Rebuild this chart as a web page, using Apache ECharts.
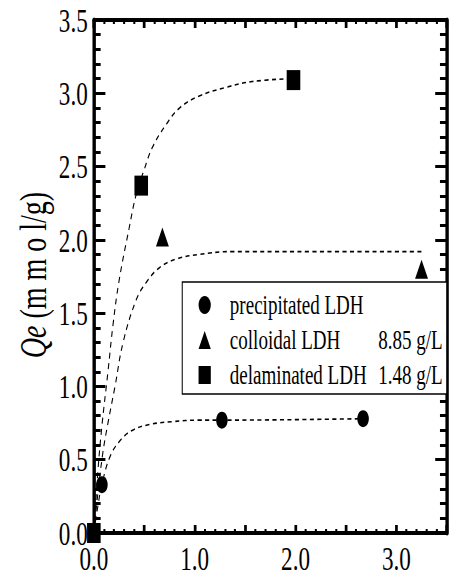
<!DOCTYPE html>
<html>
<head>
<meta charset="utf-8">
<script src="https://cdn.jsdelivr.net/npm/echarts@6/dist/echarts.min.js"></script>
<style>
    body { margin: 0; background: #fff; }
    #wrap { width: 451px; height: 575px; overflow: hidden; }
    /* the original figure is squeezed horizontally */
    #chart { width: 663px; height: 575px; transform: scaleX(0.68); transform-origin: 0 0; }
</style>
</head>
<body>
<div id="wrap"><div id="chart"></div></div>
<script>
    const seriesNames = ['precipitated LDH', 'colloidal LDH', 'delaminated LDH']
    const concLabels = ['', '8.85 g/L', '1.48 g/L']
    const symbols = ['circle', 'triangle', 'rect']
    const yName = '{i|Qe} (m m o l/g)'

    // measured points
    const precipX = [0.08, 1.27, 2.67]
    const precipY = [0.33, 0.77, 0.78]
    const colloidX = [0.68, 3.25]
    const colloidY = [2.02, 1.80]
    const delamX = [0, 0.47, 1.98]
    const delamY = [0, 2.37, 3.09]

    // dashed fit curves
    const precipFitX = [0, 0.03, 0.08, 0.16, 0.26, 0.38, 0.55, 0.78, 1.04, 1.27, 2.68]
    const precipFitY = [0, 0.14, 0.33, 0.52, 0.63, 0.70, 0.74, 0.76, 0.77, 0.77, 0.78]
    const colloidFitX = [0, 0.04, 0.09, 0.14, 0.21, 0.29, 0.42, 0.52, 0.65, 0.82, 1.04, 1.37, 2.0, 3.26]
    const colloidFitY = [0, 0.27, 0.55, 0.75, 1.0, 1.30, 1.59, 1.71, 1.81, 1.87, 1.90, 1.92, 1.92, 1.92]
    const delamFitX = [0, 0.04, 0.08, 0.14, 0.19, 0.25, 0.35, 0.42, 0.50, 0.58, 0.72, 0.85, 1.04, 1.31, 1.57, 1.96]
    const delamFitY = [0, 0.42, 0.73, 1.10, 1.42, 1.72, 2.08, 2.31, 2.48, 2.63, 2.79, 2.90, 2.98, 3.04, 3.08, 3.10]

    const xTicks = [0, 3.5, 0.5]
    const yTicks = [0, 3.5, 0.5]

    const font = 'Liberation Serif'
    const zip = (xs, ys) => xs.map((x, i) => [x, ys[i]])

    const chart = echarts.init(document.getElementById('chart'), null, { renderer: 'svg' })

    function xAxis(pos) {
        return {
            type: 'value', position: pos, min: xTicks[0], max: xTicks[1], interval: xTicks[2],
            axisLine: { onZero: false, lineStyle: { color: '#000', width: 4 } },
            axisTick: { inside: true, length: 8, lineStyle: { color: '#000', width: 4 } },
            minorTick: { show: true, splitNumber: 5, length: 4, lineStyle: { color: '#000', width: 3 } },
            axisLabel: {
                show: pos === 'bottom', margin: 11, color: '#000', fontFamily: font, fontSize: 34, lineHeight: 28,
                formatter: v => (v % 1 === 0 ? v.toFixed(1) : '')
            },
            splitLine: { show: false }
        }
    }

    function yAxis(pos) {
        return {
            type: 'value', position: pos, min: yTicks[0], max: yTicks[1], interval: yTicks[2],
            axisLine: { onZero: false, lineStyle: { color: '#000', width: 5 } },
            axisTick: { inside: true, length: 17, lineStyle: { color: '#000', width: 3 } },
            minorTick: { show: true, splitNumber: 5, length: 10, lineStyle: { color: '#000', width: 3 } },
            axisLabel: {
                show: pos === 'left', margin: 9, color: '#000', fontFamily: font, fontSize: 34,
                formatter: v => v.toFixed(1)
            },
            splitLine: { show: false }
        }
    }

    const points = [zip(precipX, precipY), zip(colloidX, colloidY), zip(delamX, delamY)]
    const fits = [zip(precipFitX, precipFitY), zip(colloidFitX, colloidFitY), zip(delamFitX, delamFitY)]
    const sizes = [17, 19, 20]

    let series = []
    fits.forEach(d => {
        series.push({
            type: 'line', data: d, symbol: 'none', smooth: 0.4,
            lineStyle: { color: '#000', width: 1.6, type: [6, 5] }, z: 2, silent: true
        })
    })
    points.forEach((d, i) => {
        series.push({
            name: seriesNames[i], type: 'scatter', data: d, symbol: symbols[i], symbolSize: sizes[i],
            itemStyle: { color: '#000', opacity: 1 }, z: 5, clip: false
        })
    })

    chart.setOption({
        animation: false,
        grid: { left: 138, right: 6, top: 20, bottom: 42 },
        xAxis: [xAxis('bottom'), xAxis('top')],
        yAxis: [yAxis('left'), yAxis('right')],
        // y title: glyphs are stretched back out against the page squeeze
        graphic: [{
            type: 'text', x: 48, y: 275, rotation: Math.PI / 2, scaleY: 2,
            style: {
                text: yName, fill: '#000', fontFamily: font, fontSize: 28,
                align: 'center', verticalAlign: 'middle',
                rich: { i: { fontStyle: 'italic', fontFamily: font, fontSize: 28, fill: '#000' } }
            }
        }],
        legend: {
            orient: 'vertical', left: 268, top: 282,
            padding: [9, 6, 5, 24], itemGap: 7, itemWidth: 18, itemHeight: 18,
            borderColor: '#000', borderWidth: 1.5, backgroundColor: '#fff',
            data: seriesNames.map((n, i) => ({ name: n, icon: symbols[i] })),
            formatter: name => {
                const i = seriesNames.indexOf(name)
                return '{s| }{a|' + name + '}{b|' + concLabels[i] + '}'
            },
            textStyle: {
                color: '#000', fontFamily: font, fontSize: 28,
                rich: {
                    s: { width: 23, fontSize: 28, lineHeight: 28 },
                    a: { width: 212, fontFamily: font, fontSize: 28, lineHeight: 28, color: '#000' },
                    b: { width: 101, align: 'right', fontFamily: font, fontSize: 28, lineHeight: 28, color: '#000' }
                }
            }
        },
        series
    })
</script>
</body>
</html>
